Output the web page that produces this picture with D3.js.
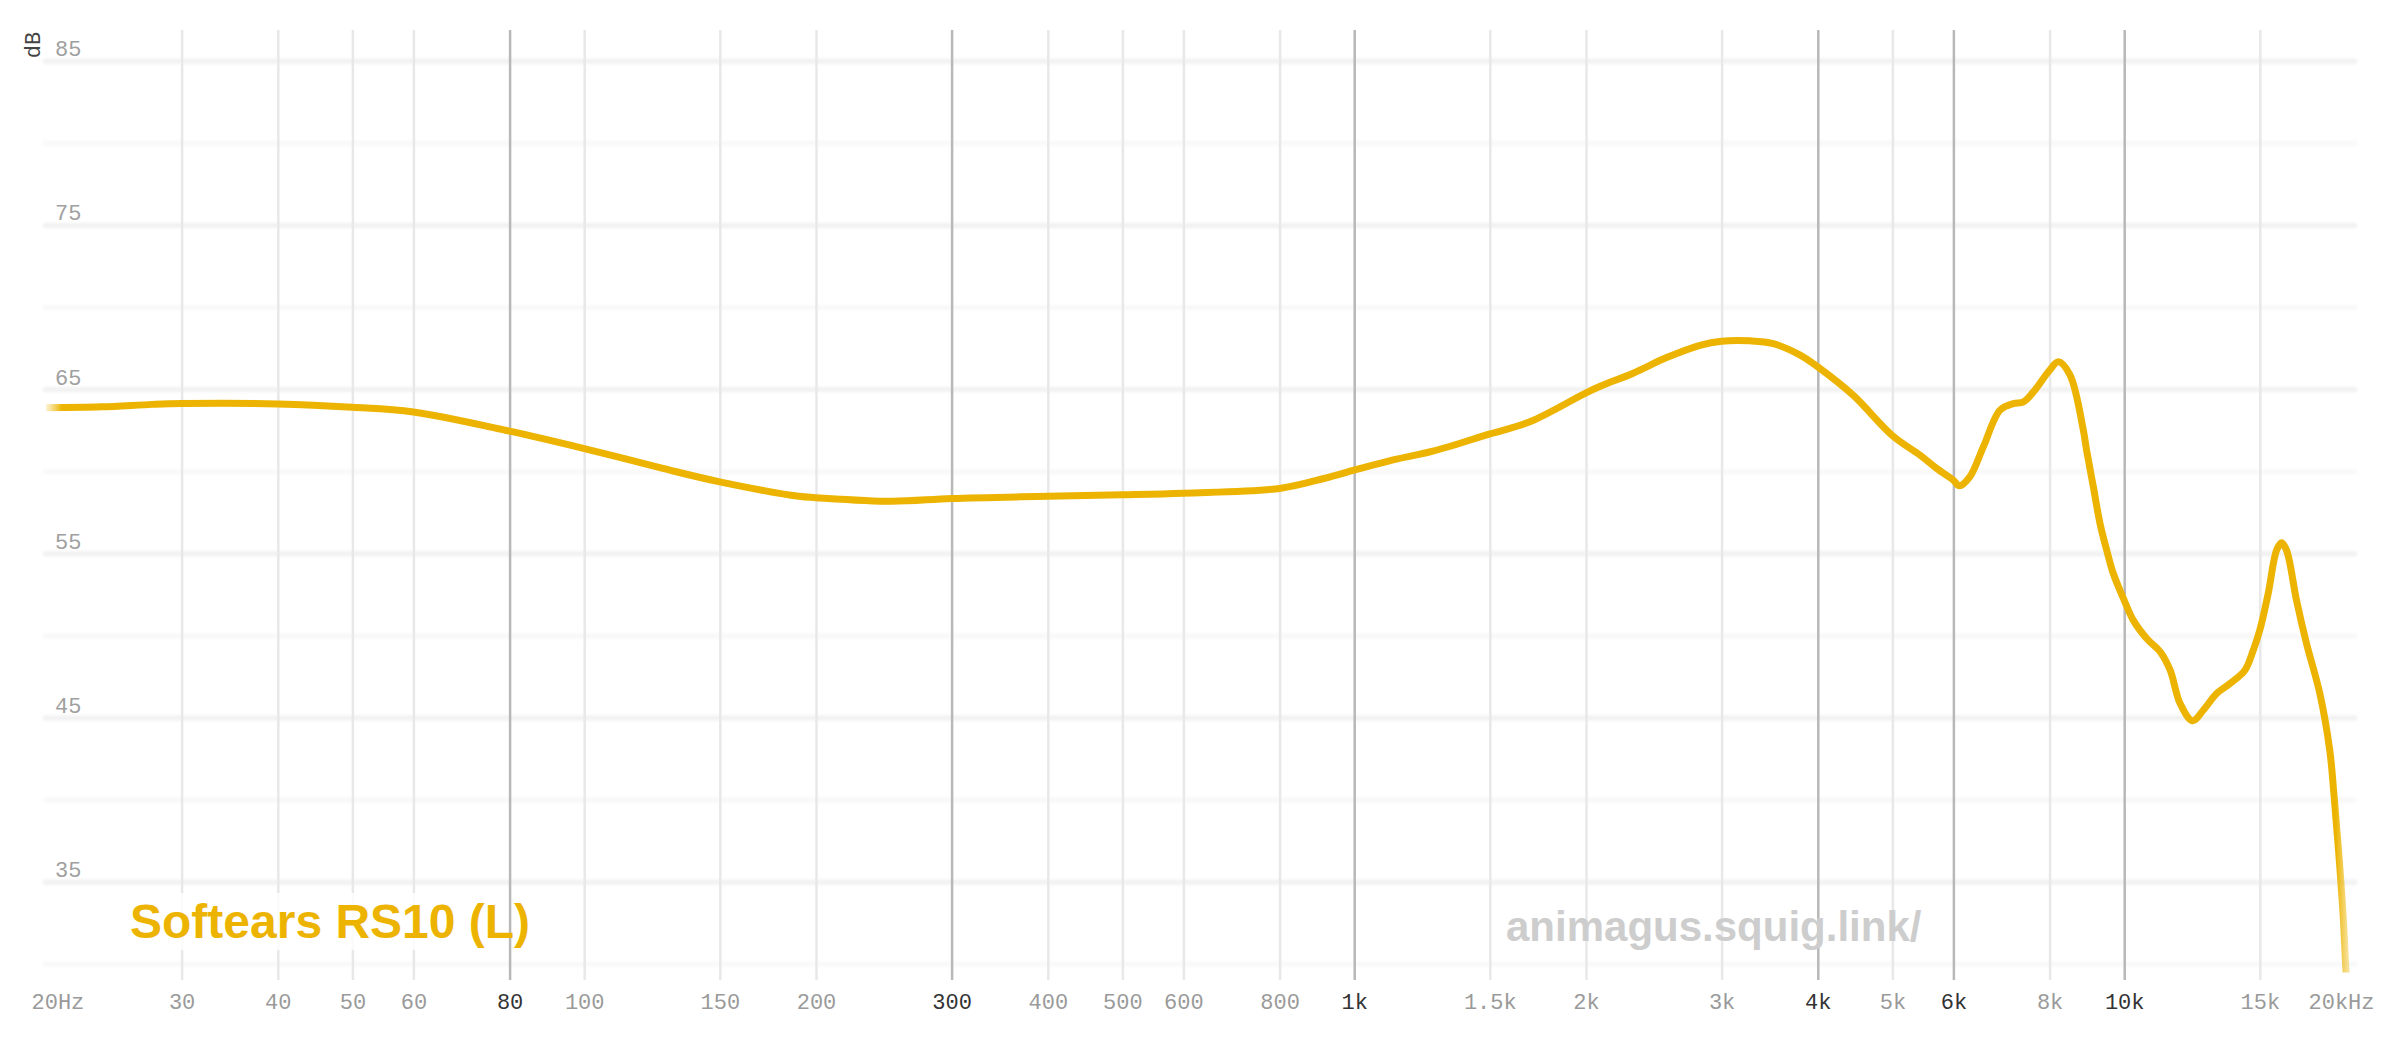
<!DOCTYPE html>
<html>
<head>
<meta charset="utf-8">
<script src="https://cdn.jsdelivr.net/npm/d3@7"></script>
<style>
  html, body { margin: 0; padding: 0; background: #fff; }
  svg { display: block; }
</style>
</head>
<body>
<div id="chart"></div>
<script>
// frequency response
const freqs = [20, 23.6, 27.5, 30, 40, 50, 60, 80, 100, 126.5, 150, 190, 200, 251, 300, 400, 500, 600, 800, 916, 1000, 1120, 1265, 1500, 1691, 2000, 2087, 2303, 2545, 2812, 3000, 3268, 3500, 3795, 4000, 4445, 5000, 5433, 5706, 6000, 6108, 6305, 6562, 6898, 7179, 7398, 7622, 8000, 8213, 8505, 8849, 8937, 9119, 9302, 9490, 9679, 10000, 10273, 10695, 11137, 11473, 11820, 12270, 12666, 13183, 13720, 14348, 14710, 15000, 15381, 15773, 16006, 16247, 16740, 17247, 17950, 18494, 18720, 18904, 19055, 19251, 19410, 19600];
const spl = [63.9, 63.95, 64.1, 64.15, 64.13, 63.93, 63.64, 62.47, 61.41, 60.2, 59.38, 58.5, 58.42, 58.2, 58.37, 58.5, 58.59, 58.69, 58.98, 59.6, 60.09, 60.7, 61.25, 62.3, 63.04, 64.8, 65.2, 66.0, 66.95, 67.7, 67.95, 67.97, 67.8, 67.1, 66.38, 64.66, 62.2, 61.0, 60.2, 59.48, 59.14, 59.7, 61.51, 63.75, 64.15, 64.25, 64.86, 66.18, 66.69, 65.88, 62.53, 61.3, 59.07, 56.85, 55.22, 53.8, 52.17, 50.96, 49.84, 49.03, 47.91, 45.88, 44.83, 45.47, 46.49, 47.1, 47.91, 49.13, 50.35, 52.58, 55.22, 55.67, 55.22, 52.17, 49.54, 46.49, 43.0, 40.4, 37.97, 35.93, 32.88, 29.64, 27.0];

const xTicks = [20, 30, 40, 50, 60, 80, 100, 150, 200, 300, 400, 500, 600, 800, 1000, 1500, 2000, 3000, 4000, 5000, 6000, 8000, 10000, 15000, 20000];
const xTickLabels = ["20Hz", "30", "40", "50", "60", "80", "100", "150", "200", "300", "400", "500", "600", "800", "1k", "1.5k", "2k", "3k", "4k", "5k", "6k", "8k", "10k", "15k", "20kHz"];
const darkTicks = [80, 300, 1000, 4000, 6000, 10000];
const yGrid = [30, 35, 40, 45, 50, 55, 60, 65, 70, 75, 80, 85];
const yLabels = [35, 45, 55, 65, 75, 85];

const seriesName = "Softears RS10 (L)";
const watermark = "animagus.squig.link/";
const lineColor = "#ecb400";

const W = 2400, H = 1038;
const plotTop = 30, plotBottom = 972.5, gridBottom = 980;

const svg = d3.select("#chart")
  .append("svg")
    .attr("width", W)
    .attr("height", H);

const x = d3.scaleLog().domain([20, 20000]).range([46, 2356]);
const y = d3.scaleLinear().domain([29.5, 86.9]).range([plotBottom, plotTop]);

const defs = svg.append("defs");
defs.append("filter").attr("id", "soft")
  .append("feGaussianBlur").attr("stdDeviation", 1.5);

defs.append("clipPath").attr("id", "plotClip")
  .append("rect")
    .attr("x", 0).attr("y", plotTop)
    .attr("width", W).attr("height", plotBottom - plotTop);

// fade the two ends of the curve
const grad = defs.append("linearGradient")
  .attr("id", "fade")
  .attr("gradientUnits", "userSpaceOnUse")
  .attr("x1", x(20)).attr("x2", 2348)
  .attr("y1", 0).attr("y2", 0);
const span = 2348 - x(20);
[[0, 0.15], [16 / span, 1], [(2336 - x(20)) / span, 1], [1, 0.4]].forEach(([o, a]) => {
  grad.append("stop").attr("offset", o).attr("stop-color", lineColor).attr("stop-opacity", a);
});

// horizontal grid bands
svg.append("g")
  .attr("filter", "url(#soft)")
  .selectAll("line")
  .data(yGrid)
  .enter().append("line")
    .attr("x1", 43).attr("x2", 2357)
    .attr("y1", d => y(d)).attr("y2", d => y(d))
    .attr("stroke", d => d % 10 === 5 ? "#f1f1f1" : "#f8f8f8")
    .attr("stroke-width", 5);

// vertical grid lines
const gridTicks = xTicks.filter(d => d !== 20 && d !== 20000);
const xGrid = svg.append("g")
  .attr("transform", `translate(0,${gridBottom})`)
  .call(d3.axisBottom(x).tickValues(gridTicks).tickSize(-(gridBottom - plotTop)).tickFormat(""));
xGrid.select(".domain").remove();
xGrid.selectAll(".tick line")
  .attr("stroke", d => darkTicks.includes(d) ? "#b8b8b8" : "#e8e8e8")
  .attr("stroke-width", 2.5);

// x labels
const xLab = svg.append("g")
  .attr("transform", `translate(0,${gridBottom})`)
  .call(d3.axisBottom(x).tickValues(xTicks).tickSize(0).tickPadding(13)
    .tickFormat((d, i) => xTickLabels[i]));
xLab.select(".domain").remove();
xLab.selectAll(".tick text")
  .attr("font-family", "'Liberation Mono', 'DejaVu Sans Mono', monospace")
  .attr("font-size", 22)
  .attr("fill", d => darkTicks.includes(d) ? "#333" : "#9a9a9a")
  .attr("text-anchor", d => d === 20 ? "start" : d === 20000 ? "end" : "middle")
  .attr("dx", d => d === 20 ? -15 : d === 20000 ? 18 : 0);

// y labels
svg.append("g")
  .selectAll("text")
  .data(yLabels)
  .enter().append("text")
    .attr("x", 55)
    .attr("y", d => y(d) - 5)
    .attr("font-family", "'Liberation Mono', 'DejaVu Sans Mono', monospace")
    .attr("font-size", 22)
    .attr("fill", "#a0a0a0")
    .text(d => d);

svg.append("text")
  .attr("transform", "translate(40,45) rotate(-90)")
  .attr("text-anchor", "middle")
  .attr("font-family", "'Liberation Mono', 'DejaVu Sans Mono', monospace")
  .attr("font-size", 22)
  .attr("fill", "#444")
  .text("dB");

// label with a pale backing box
svg.append("rect")
  .attr("x", 125).attr("y", 893)
  .attr("width", 380).attr("height", 57)
  .attr("fill", "#fff").attr("opacity", 0.8);

svg.append("text")
  .attr("x", 130).attr("y", 938)
  .attr("font-family", "'Liberation Sans', Arial, Helvetica, sans-serif")
  .attr("font-weight", "bold")
  .attr("font-size", 48)
  .attr("fill", lineColor)
  .text(seriesName);

svg.append("text")
  .attr("x", 1506).attr("y", 941)
  .attr("font-family", "'Liberation Sans', Arial, Helvetica, sans-serif")
  .attr("font-weight", "bold")
  .attr("font-size", 42)
  .attr("fill", "#cdcdcd")
  .text(watermark);

// the curve
const data = freqs.map((f, i) => ({ f, db: spl[i] }));
const line = d3.line()
  .x(d => x(d.f))
  .y(d => y(d.db))
  .curve(d3.curveCatmullRom.alpha(0.5));

svg.append("path")
  .datum(data)
  .attr("clip-path", "url(#plotClip)")
  .attr("d", line)
  .attr("fill", "none")
  .attr("stroke", "url(#fade)")
  .attr("stroke-width", 7)
  .attr("stroke-linejoin", "round");
</script>
</body>
</html>
